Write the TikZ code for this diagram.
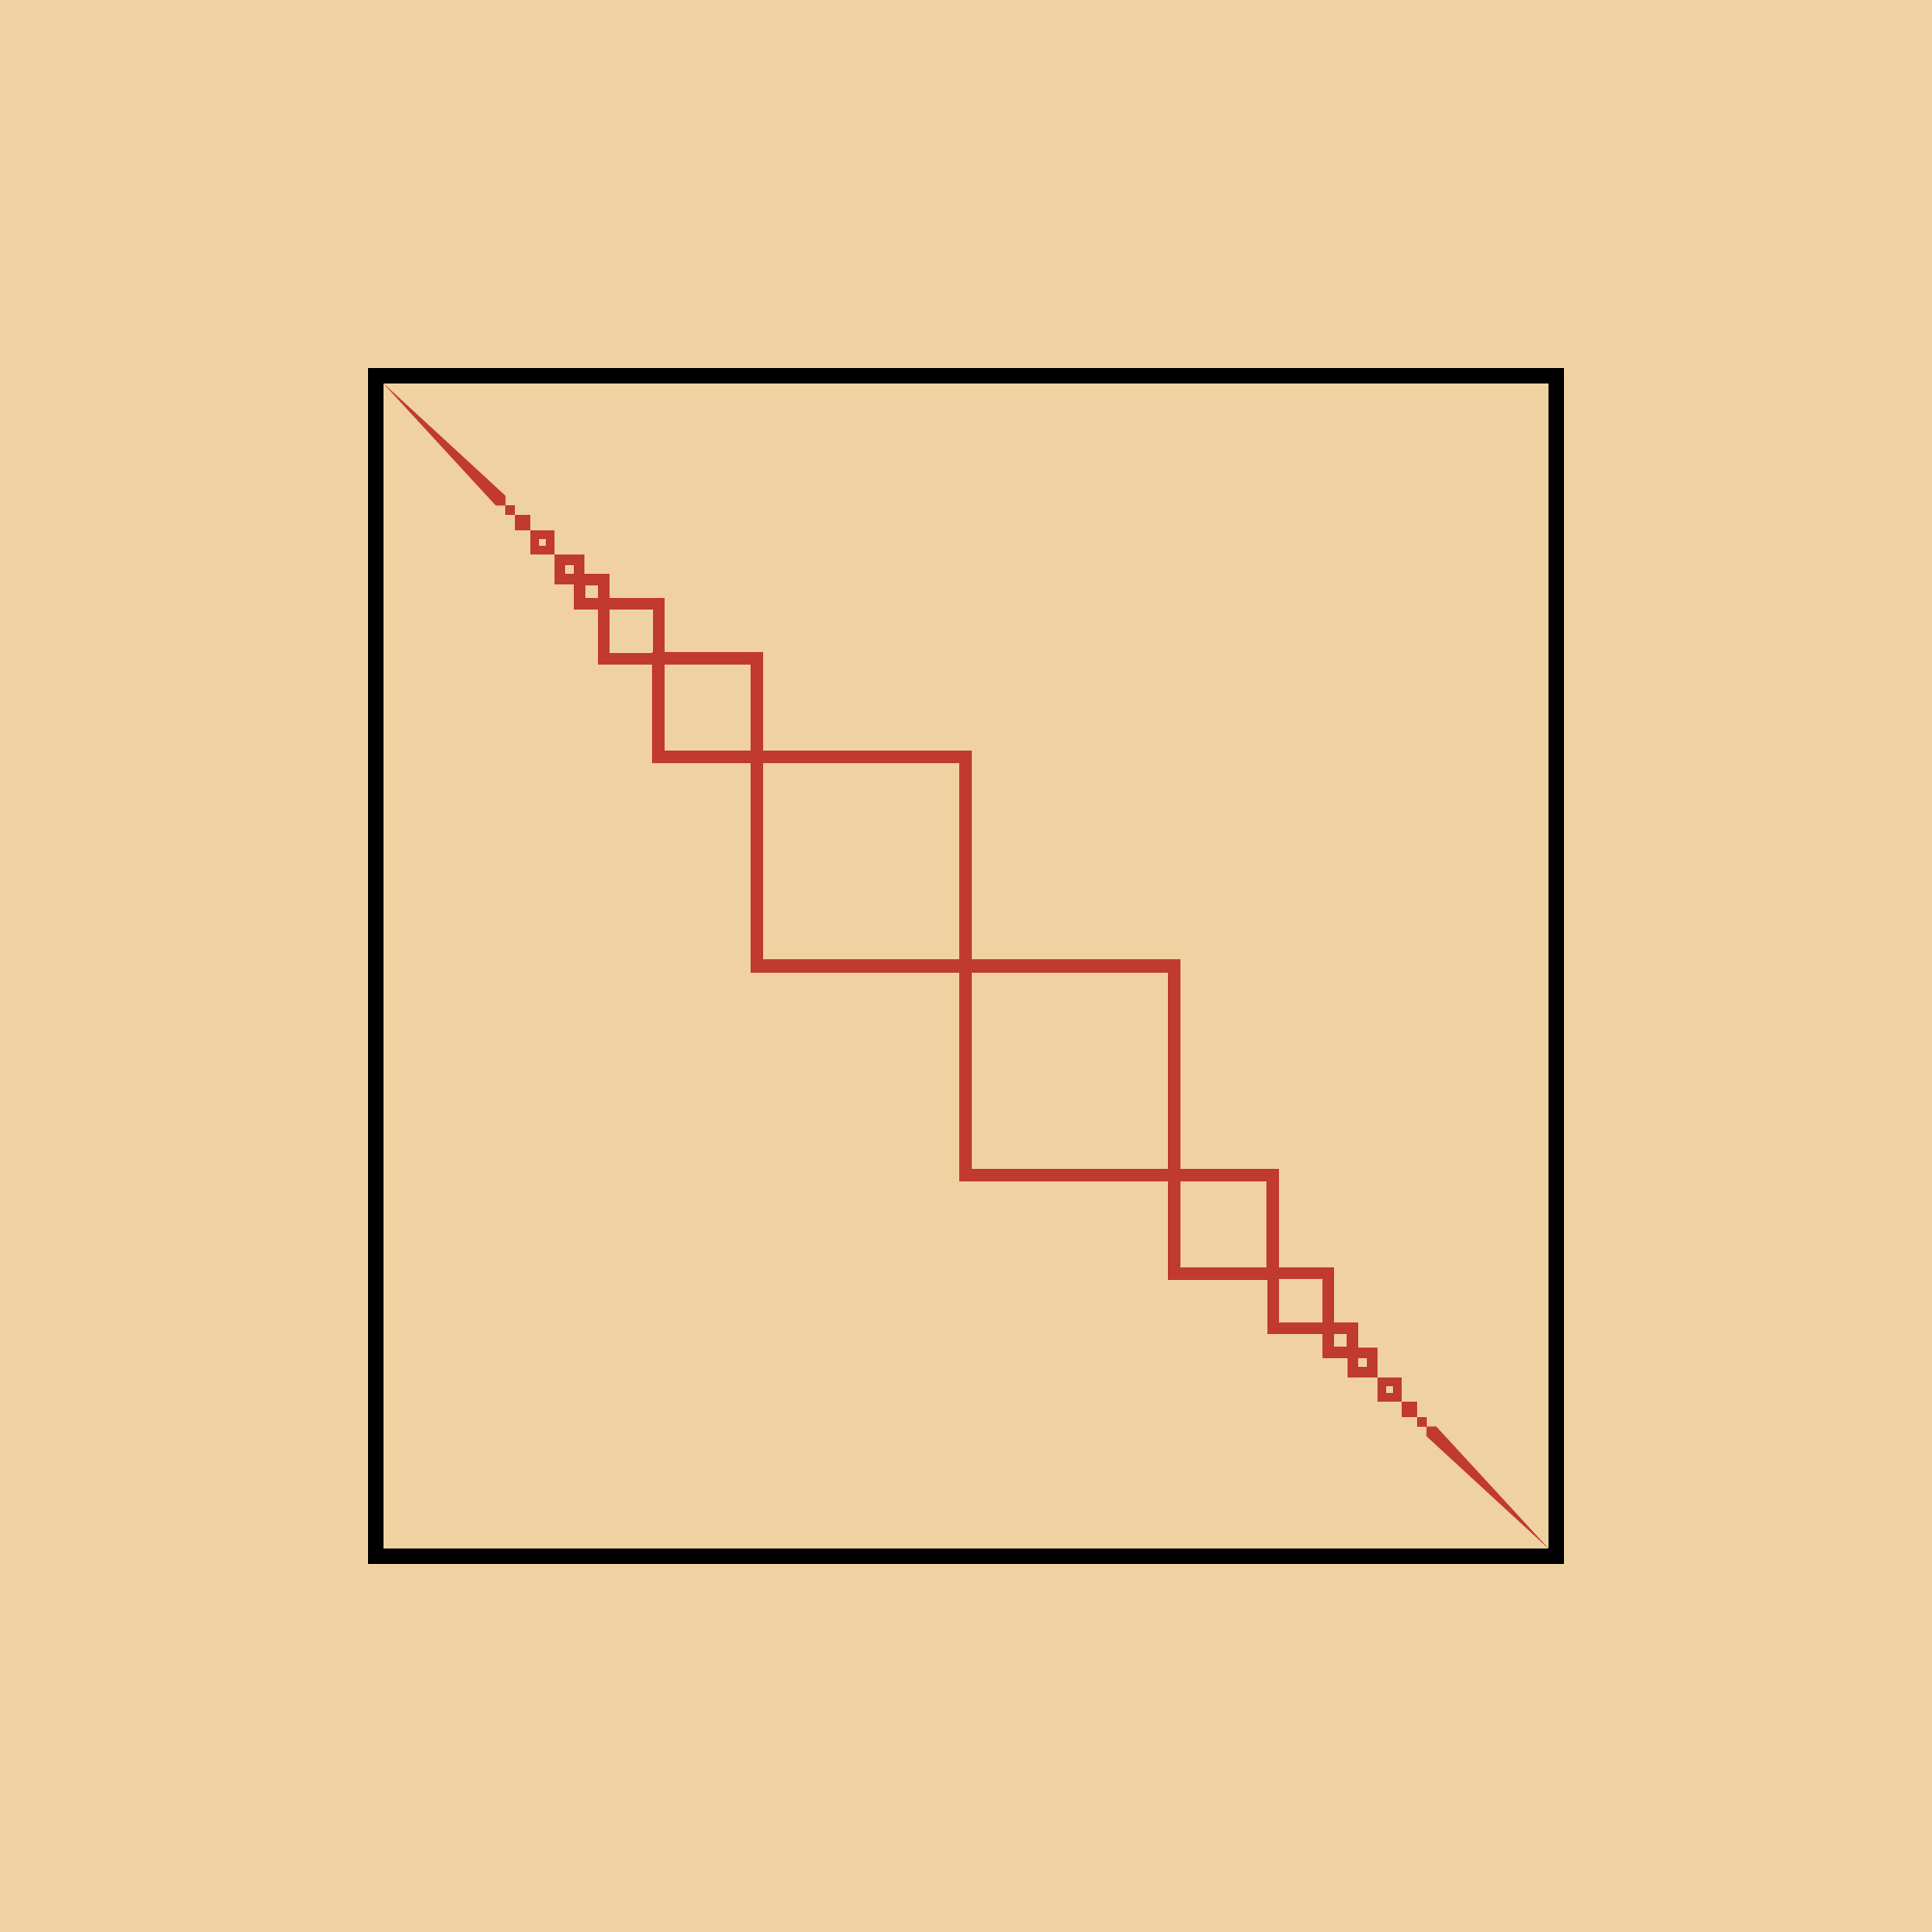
\documentclass[tikz,border=0pt]{standalone}
\usepackage{tikz}
\definecolor{sand}{RGB}{240,209,161}
\definecolor{brick}{RGB}{193,58,48}
\tikzset{chainline/.style={draw=brick, line join=miter},
  framebox/.style={draw=black, line width=0.16cm}}
% one square of the chain and its twin on the other end
\newcommand{\chainsq}[3]{%
  \foreach \ang in {0,180}{
  \begin{scope}[rotate=\ang]
    \draw[chainline, line width=#3] (-#1,#1) rectangle (-#2,#2);
  \end{scope}}}
% the tiny squares and the spike into the corner
\newcommand{\chaintip}{%
  \foreach \ang in {0,180}{
  \begin{scope}[rotate=\ang]
    \fill[brick] (-4.507,4.507) rectangle (-4.667,4.667);
    \fill[brick] (-4.667,4.667) rectangle (-4.767,4.767);
    \fill[brick] (-6.03,6.03) -- (-4.767,4.867) -- (-4.767,4.767)
      -- (-4.867,4.767) -- cycle;
  \end{scope}}}

\begin{document}
\begin{tikzpicture}
  \fill[sand] (-10,-10) rectangle (10,10);
  \draw[framebox] (-6.11,-6.11) rectangle (6.11,6.11);
  \chainsq{0}{2.16}{0.13cm}
  \chainsq{2.16}{3.18}{0.13cm}
  \chainsq{3.18}{3.75}{0.125cm}
  \chainsq{3.75}{4.00}{0.125cm}
  \chainsq{4.00}{4.20}{0.11cm}
  \chainsq{4.30}{4.46}{0.09cm}
  \chaintip
\end{tikzpicture}
\end{document}
